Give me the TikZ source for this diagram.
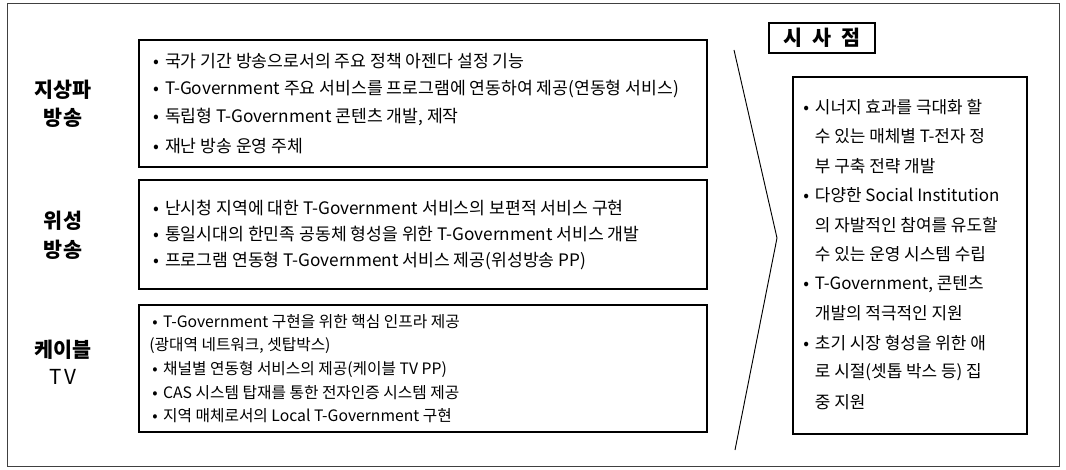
\documentclass[tikz,border=0pt]{standalone}
\usepackage{fontspec}
\setmainfont{Noto Sans CJK KR}
\usetikzlibrary{fit}
\newcommand\bl{•\hspace{0.35em}}
\newcommand\ind{\hphantom{•\hspace{0.35em}}}
\tikzset{
  frame/.style={draw=black!75, line width=0.7pt},
  panel/.style={draw=black, line width=1.1pt, inner sep=0pt},
  lbl/.style={font=\fontsize{15.5}{18}\selectfont\bfseries, anchor=center, inner sep=0pt},
  tA/.style={anchor=west, inner sep=0pt, font=\fontsize{12.9}{14}\selectfont},
  tC/.style={anchor=west, inner sep=0pt, font=\fontsize{11.8}{13}\selectfont},
  tR/.style={anchor=west, inner sep=0pt, font=\fontsize{12.7}{14}\selectfont},
  chev/.style={draw=black, line width=0.7pt}
}
\begin{document}
\begin{tikzpicture}[x=0.75pt,y=-0.75pt]
\useasboundingbox (0,0) rectangle (1066,470);
\fill[white] (0,0) rectangle (1066,470);
\draw[frame] (7,3) rectangle (1059,466);

% panels
\node[panel, fit={(139,40) (707,167)}] (b1) {};
\node[panel, fit={(139,180) (707,289)}] (b2) {};
\node[panel, fit={(139,305) (707,432)}] (b3) {};
\node[panel, fit={(793,77) (1027,434)}] (br) {};
\node[panel, line width=0.9pt, fit={(769,23) (875,53)}] (tt) {};

% left labels
\node[lbl] (l1a) at (63,90) {지상파};
\node[lbl] (l1b) at (63,118) {방송};
\node[lbl] (l2a) at (63,221) {위성};
\node[lbl] (l2b) at (63,250) {방송};
\node[lbl] (l3a) at (63,350) {케이블};
\node[lbl, font=\fontsize{15.5}{18}\selectfont] (l3b) at (63,377) {T\,V};

% box 1
\node[tA] (a1) at (153,61) {\bl 국가 기간 방송으로서의 주요 정책 아젠다 설정 기능};
\node[tA] (a2) at (153,89) {\bl T-Government 주요 서비스를 프로그램에 연동하여 제공(연동형 서비스)};
\node[tA] (a3) at (153,117) {\bl 독립형 T-Government 콘텐츠 개발, 제작};
\node[tA] (a4) at (153,146) {\bl 재난 방송 운영 주체};

% box 2
\node[tA] (s1) at (153,208) {\bl 난시청 지역에 대한 T-Government 서비스의 보편적 서비스 구현};
\node[tA] (s2) at (153,234) {\bl 통일시대의 한민족 공동체 형성을 위한 T-Government 서비스 개발};
\node[tA] (s3) at (153,261) {\bl 프로그램 연동형 T-Government 서비스 제공(위성방송 PP)};

% box 3
\node[tC] (c1) at (152,322) {\bl T-Government 구현을 위한 핵심 인프라 제공};
\node[tC] (c2) at (149,346) {(광대역 네트워크, 셋탑박스)};
\node[tC] (c3) at (152,369) {\bl 채널별 연동형 서비스의 제공(케이블 TV PP)};
\node[tC] (c4) at (152,393) {\bl CAS 시스템 탑재를 통한 전자인증 시스템 제공};
\node[tC] (c5) at (152,416) {\bl 지역 매체로서의 Local T-Government 구현};

% chevron
\coordinate (v1) at (734,50);
\coordinate (v2) at (777,238);
\coordinate (v3) at (735,450);
\draw[chev] (v1) -- (v2) -- (v3);

% title
\node[font=\fontsize{15.5}{18}\selectfont\bfseries] (ttl) at (tt.center) {시\hspace{0.5em}사\hspace{0.5em}점};

% right box
\node[tR] (r1) at (803,107) {\bl 시너지 효과를 극대화 할};
\node[tR] (r2) at (803,136.5) {\ind 수 있는 매체별 T-전자 정};
\node[tR] (r3) at (803,166) {\ind 부 구축 전략 개발};
\node[tR] (r4) at (803,195.5) {\bl 다양한 Social Institution};
\node[tR] (r5) at (803,225) {\ind 의 자발적인 참여를 유도할};
\node[tR] (r6) at (803,254.5) {\ind 수 있는 운영 시스템 수립};
\node[tR] (r7) at (803,284) {\bl T-Government, 콘텐츠};
\node[tR] (r8) at (803,313.5) {\ind 개발의 적극적인 지원};
\node[tR] (r9) at (803,343) {\bl 초기 시장 형성을 위한 애};
\node[tR] (r10) at (803,372.5) {\ind 로 시절(셋톱 박스 등) 집};
\node[tR] (r11) at (803,402) {\ind 중 지원};
\end{tikzpicture}
\end{document}
